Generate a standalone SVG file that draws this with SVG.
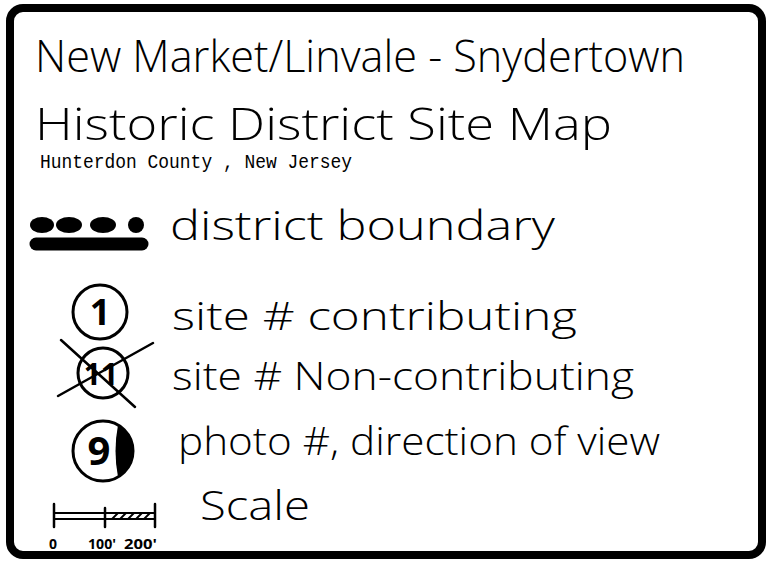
<svg xmlns="http://www.w3.org/2000/svg" width="770" height="561" viewBox="0 0 770 561">
<style>
.hand{font-family:"Open Sans","Liberation Sans","DejaVu Sans",sans-serif;font-weight:300;fill:#000}
.hand.b{font-weight:700}
.type{font-family:"Liberation Mono","DejaVu Sans Mono",monospace;fill:#000}
.ln{stroke:#000;fill:none;stroke-linecap:round}
</style>
<rect width="770" height="561" fill="#fff"/>
<g id="frame">
<rect x="10" y="8" width="752" height="547" rx="13" ry="13" fill="none" stroke="#000" stroke-width="8"/>
</g>
<g id="title">
<text class="hand" x="35" y="72" font-size="44" textLength="650" lengthAdjust="spacingAndGlyphs">New Market/Linvale - Snydertown</text>
<text class="hand" x="35" y="140" font-size="44" textLength="577" lengthAdjust="spacingAndGlyphs">Historic District  Site Map</text>
<text class="type" x="40" y="168" font-size="21" textLength="312" lengthAdjust="spacingAndGlyphs">Hunterdon County , New Jersey</text>
</g>
<g id="boundary">
<ellipse cx="42" cy="225" rx="12" ry="8" fill="#000"/>
<ellipse cx="69" cy="225" rx="13" ry="8" fill="#000"/>
<ellipse cx="103" cy="225" rx="13" ry="8" fill="#000"/>
<ellipse cx="136" cy="225" rx="8" ry="8" fill="#000"/>
<line class="ln" x1="36" y1="244" x2="142" y2="244" stroke-width="13"/>
<text class="hand" x="170" y="240" font-size="40" textLength="385" lengthAdjust="spacingAndGlyphs">district boundary</text>
</g>
<g id="contributing">
<circle cx="100" cy="312" r="27" fill="none" stroke="#000" stroke-width="3"/>
<text class="hand b" x="100" y="325" font-size="36" text-anchor="middle">1</text>
<text class="hand" x="172" y="330" font-size="38" textLength="405" lengthAdjust="spacingAndGlyphs">site # contributing</text>
</g>
<g id="non-contributing">
<circle cx="103" cy="373" r="25" fill="none" stroke="#000" stroke-width="3"/>
<text class="hand b" x="101" y="385" font-size="30" text-anchor="middle">11</text>
<line class="ln" x1="61" y1="340" x2="135" y2="407" stroke-width="2.5"/>
<line class="ln" x1="58" y1="396" x2="153" y2="343" stroke-width="2.5"/>
<text class="hand" x="172" y="390" font-size="38" textLength="462" lengthAdjust="spacingAndGlyphs">site # Non-contributing</text>
</g>
<g id="photo">
<circle cx="103" cy="451" r="30" fill="#fff" stroke="#000" stroke-width="3"/>
<path d="M118 425 A30 30 0 0 1 118 477 Q113 451 118 425 Z" fill="#000"/>
<text class="hand b" x="99" y="465" font-size="40" text-anchor="middle">9</text>
<text class="hand" x="178" y="455" font-size="38" textLength="482" lengthAdjust="spacingAndGlyphs">photo #, direction of view</text>
</g>
<g id="scale">
<line class="ln" x1="54" y1="513" x2="155" y2="513" stroke-width="2"/>
<line class="ln" x1="54" y1="519" x2="155" y2="519" stroke-width="2"/>
<line class="ln" x1="54" y1="504" x2="54" y2="527" stroke-width="2.5"/>
<line class="ln" x1="105" y1="508" x2="105" y2="527" stroke-width="2.5"/>
<line class="ln" x1="155" y1="504" x2="155" y2="527" stroke-width="2.5"/>
<path class="ln" d="M112 519 L118 513 M120 519 L126 513 M128 519 L134 513 M136 519 L142 513 M144 519 L150 513" stroke-width="1.8"/>
<text class="hand b" x="49" y="549" font-size="14">0</text>
<text class="hand b" x="88" y="549" font-size="14" textLength="28" lengthAdjust="spacingAndGlyphs">100'</text>
<text class="hand b" x="124" y="549" font-size="14" textLength="33" lengthAdjust="spacingAndGlyphs">200'</text>
<text class="hand" x="200" y="520" font-size="40" textLength="110" lengthAdjust="spacingAndGlyphs">Scale</text>
</g>
</svg>
